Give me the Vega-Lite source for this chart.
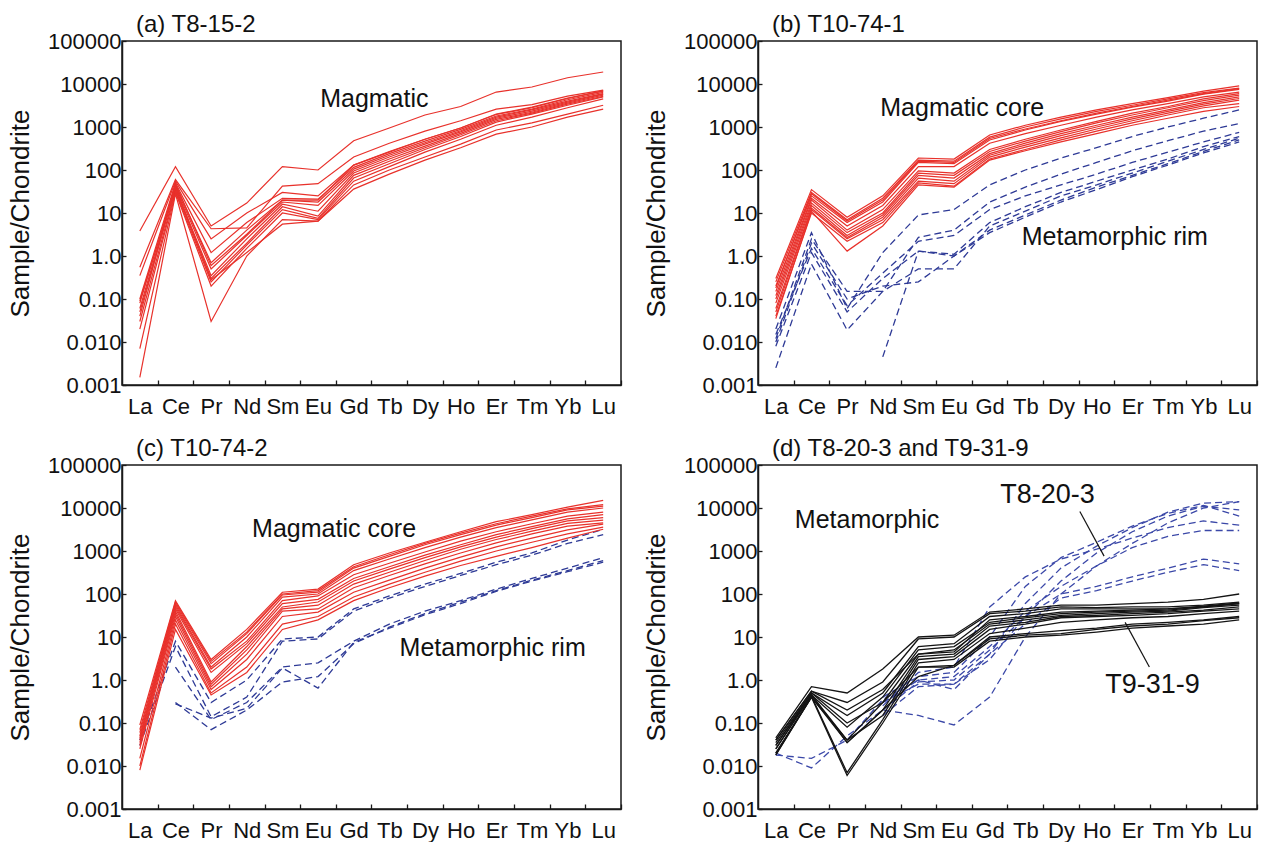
{
  "$schema": "https://vega.github.io/schema/vega-lite/v6.json",
  "padding": {"left": 6, "top": 12, "right": 0, "bottom": 0},
  "background": "white",
  "config": {
    "font": "Liberation Sans",
    "view": {"stroke": "#1a1a1a", "strokeWidth": 1.5},
    "axis": {"grid": false, "domainColor": "#1a1a1a", "domainWidth": 1.5, "tickColor": "#1a1a1a", "tickWidth": 1.3, "labelColor": "#111111", "labelFontSize": 22, "labelFont": "Liberation Sans", "titleFont": "Liberation Sans", "titleFontSize": 26, "titleFontWeight": "normal", "titleColor": "#111111"},
    "title": {"fontSize": 24, "fontWeight": "normal", "font": "Liberation Sans", "color": "#111111", "anchor": "start", "frame": "group", "offset": -7, "baseline": "alphabetic", "dx": 14},
    "text": {"font": "Liberation Sans", "color": "#111111", "align": "center", "baseline": "middle"}
  },
  "datasets": {
    "ree": [
      {"e": "La", "k": 0}, {"e": "Ce", "k": 1}, {"e": "Pr", "k": 2}, {"e": "Nd", "k": 3}, {"e": "Sm", "k": 4}, {"e": "Eu", "k": 5}, {"e": "Gd", "k": 6},
      {"e": "Tb", "k": 7}, {"e": "Dy", "k": 8}, {"e": "Ho", "k": 9}, {"e": "Er", "k": 10}, {"e": "Tm", "k": 11}, {"e": "Yb", "k": 12}, {"e": "Lu", "k": 13}
    ],
    "series": [
      {"s": "a1", "p": "a", "g": "mag"}, {"s": "a2", "p": "a", "g": "mag"}, {"s": "a3", "p": "a", "g": "mag"}, {"s": "a4", "p": "a", "g": "mag"}, {"s": "a5", "p": "a", "g": "mag"},
      {"s": "a6", "p": "a", "g": "mag"}, {"s": "a7", "p": "a", "g": "mag"}, {"s": "a8", "p": "a", "g": "mag"}, {"s": "a9", "p": "a", "g": "mag"}, {"s": "a10", "p": "a", "g": "mag"},
      {"s": "a11", "p": "a", "g": "mag"}, {"s": "a12", "p": "a", "g": "mag"}, {"s": "a13", "p": "a", "g": "mag"},
      {"s": "b1", "p": "b", "g": "mag"}, {"s": "b2", "p": "b", "g": "mag"}, {"s": "b3", "p": "b", "g": "mag"}, {"s": "b4", "p": "b", "g": "mag"}, {"s": "b5", "p": "b", "g": "mag"},
      {"s": "b6", "p": "b", "g": "mag"}, {"s": "b7", "p": "b", "g": "mag"}, {"s": "b8", "p": "b", "g": "mag"}, {"s": "b9", "p": "b", "g": "mag"}, {"s": "b10", "p": "b", "g": "mag"},
      {"s": "b11", "p": "b", "g": "mag"}, {"s": "b12", "p": "b", "g": "mag"},
      {"s": "bm1", "p": "b", "g": "met"}, {"s": "bm2", "p": "b", "g": "met"}, {"s": "bm3", "p": "b", "g": "met"}, {"s": "bm4", "p": "b", "g": "met"}, {"s": "bm5", "p": "b", "g": "met"},
      {"s": "bm6", "p": "b", "g": "met"}, {"s": "bm7", "p": "b", "g": "met"},
      {"s": "c1", "p": "c", "g": "mag"}, {"s": "c2", "p": "c", "g": "mag"}, {"s": "c3", "p": "c", "g": "mag"}, {"s": "c4", "p": "c", "g": "mag"}, {"s": "c5", "p": "c", "g": "mag"},
      {"s": "c6", "p": "c", "g": "mag"}, {"s": "c7", "p": "c", "g": "mag"}, {"s": "c8", "p": "c", "g": "mag"}, {"s": "c9", "p": "c", "g": "mag"}, {"s": "c10", "p": "c", "g": "mag"},
      {"s": "c11", "p": "c", "g": "mag"}, {"s": "c12", "p": "c", "g": "mag"},
      {"s": "cm1", "p": "c", "g": "met"}, {"s": "cm2", "p": "c", "g": "met"}, {"s": "cm3", "p": "c", "g": "met"}, {"s": "cm4", "p": "c", "g": "met"}, {"s": "cm5", "p": "c", "g": "met"},
      {"s": "d1", "p": "d", "g": "blk"}, {"s": "d2", "p": "d", "g": "blk"}, {"s": "d3", "p": "d", "g": "blk"}, {"s": "d4", "p": "d", "g": "blk"}, {"s": "d5", "p": "d", "g": "blk"},
      {"s": "d6", "p": "d", "g": "blk"}, {"s": "d7", "p": "d", "g": "blk"}, {"s": "d8", "p": "d", "g": "blk"}, {"s": "d9", "p": "d", "g": "blk"}, {"s": "d10", "p": "d", "g": "blk"},
      {"s": "d11", "p": "d", "g": "blk"}, {"s": "d12", "p": "d", "g": "blk"},
      {"s": "dm1", "p": "d", "g": "met"}, {"s": "dm2", "p": "d", "g": "met"}, {"s": "dm3", "p": "d", "g": "met"}, {"s": "dm4", "p": "d", "g": "met"}, {"s": "dm5", "p": "d", "g": "met"},
      {"s": "dm6", "p": "d", "g": "met"}, {"s": "dm7", "p": "d", "g": "met"}, {"s": "dm8", "p": "d", "g": "met"}
    ],
    "notes": [
      {"p": "a", "kind": "group", "t": "Magmatic", "k": 6.58, "v": 4470},
      {"p": "b", "kind": "group", "t": "Magmatic core", "k": 5.23, "v": 2750},
      {"p": "b", "kind": "group", "t": "Metamorphic rim", "k": 9.51, "v": 2.75},
      {"p": "c", "kind": "group", "t": "Magmatic core", "k": 5.45, "v": 3240},
      {"p": "c", "kind": "group", "t": "Metamorphic rim", "k": 9.9, "v": 5.5},
      {"p": "d", "kind": "group", "t": "Metamorphic", "k": 2.56, "v": 5370},
      {"p": "d", "kind": "sample", "t": "T8-20-3", "k": 7.62, "v": 20400},
      {"p": "d", "kind": "sample", "t": "T9-31-9", "k": 10.57, "v": 0.76}
    ],
    "leaders": [
      {"p": "d", "t": "T8-20-3", "k": 8.53, "v": 8300, "k2": 9.21, "v2": 760},
      {"p": "d", "t": "T9-31-9", "k": 9.8, "v": 21.9, "k2": 10.48, "v2": 2.0}
    ],
    "pts": [
      {"s":"a1","e":"La","v":3.8},{"s":"a1","e":"Ce","v":120},{"s":"a1","e":"Pr","v":5},{"s":"a1","e":"Nd","v":17},{"s":"a1","e":"Sm","v":120},{"s":"a1","e":"Eu","v":100},{"s":"a1","e":"Gd","v":480},{"s":"a1","e":"Tb","v":950},{"s":"a1","e":"Dy","v":1900},{"s":"a1","e":"Ho","v":3000},{"s":"a1","e":"Er","v":6500},{"s":"a1","e":"Tm","v":8500},{"s":"a1","e":"Yb","v":14000},{"s":"a1","e":"Lu","v":19000},
      {"s":"a2","e":"La","v":0.55},{"s":"a2","e":"Ce","v":60},{"s":"a2","e":"Pr","v":4.3},{"s":"a2","e":"Nd","v":4.5},{"s":"a2","e":"Sm","v":42},{"s":"a2","e":"Eu","v":48},{"s":"a2","e":"Gd","v":200},{"s":"a2","e":"Tb","v":420},{"s":"a2","e":"Dy","v":800},{"s":"a2","e":"Ho","v":1400},{"s":"a2","e":"Er","v":2600},{"s":"a2","e":"Tm","v":3300},{"s":"a2","e":"Yb","v":5200},{"s":"a2","e":"Lu","v":7200},
      {"s":"a3","e":"La","v":0.35},{"s":"a3","e":"Ce","v":55},{"s":"a3","e":"Pr","v":2.5},{"s":"a3","e":"Nd","v":10},{"s":"a3","e":"Sm","v":30},{"s":"a3","e":"Eu","v":25},{"s":"a3","e":"Gd","v":130},{"s":"a3","e":"Tb","v":270},{"s":"a3","e":"Dy","v":520},{"s":"a3","e":"Ho","v":950},{"s":"a3","e":"Er","v":1950},{"s":"a3","e":"Tm","v":2800},{"s":"a3","e":"Yb","v":4600},{"s":"a3","e":"Lu","v":6800},
      {"s":"a4","e":"La","v":0.1},{"s":"a4","e":"Ce","v":50},{"s":"a4","e":"Pr","v":1.2},{"s":"a4","e":"Nd","v":6},{"s":"a4","e":"Sm","v":22},{"s":"a4","e":"Eu","v":21},{"s":"a4","e":"Gd","v":115},{"s":"a4","e":"Tb","v":240},{"s":"a4","e":"Dy","v":470},{"s":"a4","e":"Ho","v":880},{"s":"a4","e":"Er","v":1800},{"s":"a4","e":"Tm","v":2600},{"s":"a4","e":"Yb","v":4300},{"s":"a4","e":"Lu","v":6400},
      {"s":"a5","e":"La","v":0.08},{"s":"a5","e":"Ce","v":45},{"s":"a5","e":"Pr","v":0.7},{"s":"a5","e":"Nd","v":4},{"s":"a5","e":"Sm","v":20},{"s":"a5","e":"Eu","v":18},{"s":"a5","e":"Gd","v":105},{"s":"a5","e":"Tb","v":220},{"s":"a5","e":"Dy","v":430},{"s":"a5","e":"Ho","v":820},{"s":"a5","e":"Er","v":1700},{"s":"a5","e":"Tm","v":2500},{"s":"a5","e":"Yb","v":4000},{"s":"a5","e":"Lu","v":6000},
      {"s":"a6","e":"La","v":0.06},{"s":"a6","e":"Ce","v":42},{"s":"a6","e":"Pr","v":0.5},{"s":"a6","e":"Nd","v":3},{"s":"a6","e":"Sm","v":18},{"s":"a6","e":"Eu","v":15},{"s":"a6","e":"Gd","v":95},{"s":"a6","e":"Tb","v":200},{"s":"a6","e":"Dy","v":400},{"s":"a6","e":"Ho","v":770},{"s":"a6","e":"Er","v":1600},{"s":"a6","e":"Tm","v":2350},{"s":"a6","e":"Yb","v":3800},{"s":"a6","e":"Lu","v":5800},
      {"s":"a7","e":"La","v":0.05},{"s":"a7","e":"Ce","v":38},{"s":"a7","e":"Pr","v":0.35},{"s":"a7","e":"Nd","v":2.5},{"s":"a7","e":"Sm","v":16},{"s":"a7","e":"Eu","v":11},{"s":"a7","e":"Gd","v":85},{"s":"a7","e":"Tb","v":180},{"s":"a7","e":"Dy","v":360},{"s":"a7","e":"Ho","v":710},{"s":"a7","e":"Er","v":1500},{"s":"a7","e":"Tm","v":2200},{"s":"a7","e":"Yb","v":3600},{"s":"a7","e":"Lu","v":5500},
      {"s":"a8","e":"La","v":0.03},{"s":"a8","e":"Ce","v":35},{"s":"a8","e":"Pr","v":0.3},{"s":"a8","e":"Nd","v":2.0},{"s":"a8","e":"Sm","v":14},{"s":"a8","e":"Eu","v":8.5},{"s":"a8","e":"Gd","v":75},{"s":"a8","e":"Tb","v":160},{"s":"a8","e":"Dy","v":330},{"s":"a8","e":"Ho","v":660},{"s":"a8","e":"Er","v":1400},{"s":"a8","e":"Tm","v":2100},{"s":"a8","e":"Yb","v":3400},{"s":"a8","e":"Lu","v":5200},
      {"s":"a9","e":"La","v":0.02},{"s":"a9","e":"Ce","v":32},{"s":"a9","e":"Pr","v":0.25},{"s":"a9","e":"Nd","v":1.8},{"s":"a9","e":"Sm","v":12},{"s":"a9","e":"Eu","v":7.5},{"s":"a9","e":"Gd","v":65},{"s":"a9","e":"Tb","v":140},{"s":"a9","e":"Dy","v":300},{"s":"a9","e":"Ho","v":600},{"s":"a9","e":"Er","v":1300},{"s":"a9","e":"Tm","v":2000},{"s":"a9","e":"Yb","v":3200},{"s":"a9","e":"Lu","v":5000},
      {"s":"a10","e":"La","v":0.007},{"s":"a10","e":"Ce","v":30},{"s":"a10","e":"Pr","v":0.2},{"s":"a10","e":"Nd","v":1.5},{"s":"a10","e":"Sm","v":10},{"s":"a10","e":"Eu","v":7},{"s":"a10","e":"Gd","v":55},{"s":"a10","e":"Tb","v":120},{"s":"a10","e":"Dy","v":260},{"s":"a10","e":"Ho","v":520},{"s":"a10","e":"Er","v":1100},{"s":"a10","e":"Tm","v":1700},{"s":"a10","e":"Yb","v":2800},{"s":"a10","e":"Lu","v":4500},
      {"s":"a11","e":"La","v":0.0015},{"s":"a11","e":"Ce","v":28},{"s":"a11","e":"Pr","v":0.03},{"s":"a11","e":"Nd","v":1.0},{"s":"a11","e":"Sm","v":7},{"s":"a11","e":"Eu","v":6.5},{"s":"a11","e":"Gd","v":45},{"s":"a11","e":"Tb","v":100},{"s":"a11","e":"Dy","v":200},{"s":"a11","e":"Ho","v":400},{"s":"a11","e":"Er","v":850},{"s":"a11","e":"Tm","v":1250},{"s":"a11","e":"Yb","v":2000},{"s":"a11","e":"Lu","v":3200},
      {"s":"a12","e":"La","v":0.09},{"s":"a12","e":"Ce","v":40},{"s":"a12","e":"Pr","v":0.28},{"s":"a12","e":"Nd","v":1.2},{"s":"a12","e":"Sm","v":5.5},{"s":"a12","e":"Eu","v":6.5},{"s":"a12","e":"Gd","v":36},{"s":"a12","e":"Tb","v":80},{"s":"a12","e":"Dy","v":170},{"s":"a12","e":"Ho","v":330},{"s":"a12","e":"Er","v":680},{"s":"a12","e":"Tm","v":1000},{"s":"a12","e":"Yb","v":1700},{"s":"a12","e":"Lu","v":2600},
      {"s":"a13","e":"La","v":0.04},{"s":"a13","e":"Ce","v":48},{"s":"a13","e":"Pr","v":0.6},{"s":"a13","e":"Nd","v":3.2},{"s":"a13","e":"Sm","v":20},{"s":"a13","e":"Eu","v":20},{"s":"a13","e":"Gd","v":130},{"s":"a13","e":"Tb","v":260},{"s":"a13","e":"Dy","v":520},{"s":"a13","e":"Ho","v":950},{"s":"a13","e":"Er","v":2000},{"s":"a13","e":"Tm","v":2900},{"s":"a13","e":"Yb","v":4700},{"s":"a13","e":"Lu","v":6900},

      {"s":"b1","e":"La","v":0.3},{"s":"b1","e":"Ce","v":35},{"s":"b1","e":"Pr","v":8},{"s":"b1","e":"Nd","v":25},{"s":"b1","e":"Sm","v":190},{"s":"b1","e":"Eu","v":180},{"s":"b1","e":"Gd","v":650},{"s":"b1","e":"Tb","v":1100},{"s":"b1","e":"Dy","v":1700},{"s":"b1","e":"Ho","v":2500},{"s":"b1","e":"Er","v":3500},{"s":"b1","e":"Tm","v":4800},{"s":"b1","e":"Yb","v":6800},{"s":"b1","e":"Lu","v":9000},
      {"s":"b2","e":"La","v":0.25},{"s":"b2","e":"Ce","v":30},{"s":"b2","e":"Pr","v":7},{"s":"b2","e":"Nd","v":22},{"s":"b2","e":"Sm","v":170},{"s":"b2","e":"Eu","v":160},{"s":"b2","e":"Gd","v":580},{"s":"b2","e":"Tb","v":1000},{"s":"b2","e":"Dy","v":1550},{"s":"b2","e":"Ho","v":2300},{"s":"b2","e":"Er","v":3200},{"s":"b2","e":"Tm","v":4500},{"s":"b2","e":"Yb","v":6300},{"s":"b2","e":"Lu","v":8000},
      {"s":"b3","e":"La","v":0.2},{"s":"b3","e":"Ce","v":25},{"s":"b3","e":"Pr","v":6},{"s":"b3","e":"Nd","v":18},{"s":"b3","e":"Sm","v":150},{"s":"b3","e":"Eu","v":140},{"s":"b3","e":"Gd","v":500},{"s":"b3","e":"Tb","v":850},{"s":"b3","e":"Dy","v":1350},{"s":"b3","e":"Ho","v":2000},{"s":"b3","e":"Er","v":2900},{"s":"b3","e":"Tm","v":4000},{"s":"b3","e":"Yb","v":5800},{"s":"b3","e":"Lu","v":7500},
      {"s":"b4","e":"La","v":0.15},{"s":"b4","e":"Ce","v":22},{"s":"b4","e":"Pr","v":5},{"s":"b4","e":"Nd","v":15},{"s":"b4","e":"Sm","v":120},{"s":"b4","e":"Eu","v":120},{"s":"b4","e":"Gd","v":420},{"s":"b4","e":"Tb","v":700},{"s":"b4","e":"Dy","v":1100},{"s":"b4","e":"Ho","v":1700},{"s":"b4","e":"Er","v":2500},{"s":"b4","e":"Tm","v":3500},{"s":"b4","e":"Yb","v":5000},{"s":"b4","e":"Lu","v":6500},
      {"s":"b5","e":"La","v":0.12},{"s":"b5","e":"Ce","v":20},{"s":"b5","e":"Pr","v":4},{"s":"b5","e":"Nd","v":12},{"s":"b5","e":"Sm","v":95},{"s":"b5","e":"Eu","v":85},{"s":"b5","e":"Gd","v":300},{"s":"b5","e":"Tb","v":520},{"s":"b5","e":"Dy","v":850},{"s":"b5","e":"Ho","v":1350},{"s":"b5","e":"Er","v":2100},{"s":"b5","e":"Tm","v":3000},{"s":"b5","e":"Yb","v":4500},{"s":"b5","e":"Lu","v":6000},
      {"s":"b6","e":"La","v":0.1},{"s":"b6","e":"Ce","v":17},{"s":"b6","e":"Pr","v":3.5},{"s":"b6","e":"Nd","v":10},{"s":"b6","e":"Sm","v":85},{"s":"b6","e":"Eu","v":75},{"s":"b6","e":"Gd","v":270},{"s":"b6","e":"Tb","v":470},{"s":"b6","e":"Dy","v":780},{"s":"b6","e":"Ho","v":1250},{"s":"b6","e":"Er","v":1900},{"s":"b6","e":"Tm","v":2800},{"s":"b6","e":"Yb","v":4100},{"s":"b6","e":"Lu","v":5500},
      {"s":"b7","e":"La","v":0.08},{"s":"b7","e":"Ce","v":15},{"s":"b7","e":"Pr","v":3},{"s":"b7","e":"Nd","v":9},{"s":"b7","e":"Sm","v":75},{"s":"b7","e":"Eu","v":65},{"s":"b7","e":"Gd","v":240},{"s":"b7","e":"Tb","v":420},{"s":"b7","e":"Dy","v":700},{"s":"b7","e":"Ho","v":1100},{"s":"b7","e":"Er","v":1700},{"s":"b7","e":"Tm","v":2500},{"s":"b7","e":"Yb","v":3700},{"s":"b7","e":"Lu","v":5000},
      {"s":"b8","e":"La","v":0.06},{"s":"b8","e":"Ce","v":13},{"s":"b8","e":"Pr","v":2.7},{"s":"b8","e":"Nd","v":8},{"s":"b8","e":"Sm","v":65},{"s":"b8","e":"Eu","v":55},{"s":"b8","e":"Gd","v":220},{"s":"b8","e":"Tb","v":380},{"s":"b8","e":"Dy","v":630},{"s":"b8","e":"Ho","v":1000},{"s":"b8","e":"Er","v":1550},{"s":"b8","e":"Tm","v":2300},{"s":"b8","e":"Yb","v":3400},{"s":"b8","e":"Lu","v":4600},
      {"s":"b9","e":"La","v":0.05},{"s":"b9","e":"Ce","v":12},{"s":"b9","e":"Pr","v":2.5},{"s":"b9","e":"Nd","v":7},{"s":"b9","e":"Sm","v":55},{"s":"b9","e":"Eu","v":48},{"s":"b9","e":"Gd","v":200},{"s":"b9","e":"Tb","v":340},{"s":"b9","e":"Dy","v":560},{"s":"b9","e":"Ho","v":900},{"s":"b9","e":"Er","v":1400},{"s":"b9","e":"Tm","v":2100},{"s":"b9","e":"Yb","v":3100},{"s":"b9","e":"Lu","v":4200},
      {"s":"b10","e":"La","v":0.04},{"s":"b10","e":"Ce","v":10},{"s":"b10","e":"Pr","v":2.2},{"s":"b10","e":"Nd","v":6},{"s":"b10","e":"Sm","v":50},{"s":"b10","e":"Eu","v":42},{"s":"b10","e":"Gd","v":180},{"s":"b10","e":"Tb","v":300},{"s":"b10","e":"Dy","v":500},{"s":"b10","e":"Ho","v":800},{"s":"b10","e":"Er","v":1250},{"s":"b10","e":"Tm","v":1900},{"s":"b10","e":"Yb","v":2800},{"s":"b10","e":"Lu","v":3500},
      {"s":"b11","e":"La","v":0.035},{"s":"b11","e":"Ce","v":11},{"s":"b11","e":"Pr","v":1.3},{"s":"b11","e":"Nd","v":5},{"s":"b11","e":"Sm","v":45},{"s":"b11","e":"Eu","v":40},{"s":"b11","e":"Gd","v":170},{"s":"b11","e":"Tb","v":280},{"s":"b11","e":"Dy","v":450},{"s":"b11","e":"Ho","v":700},{"s":"b11","e":"Er","v":1100},{"s":"b11","e":"Tm","v":1600},{"s":"b11","e":"Yb","v":2300},{"s":"b11","e":"Lu","v":3000},
      {"s":"b12","e":"La","v":0.18},{"s":"b12","e":"Ce","v":28},{"s":"b12","e":"Pr","v":6.5},{"s":"b12","e":"Nd","v":20},{"s":"b12","e":"Sm","v":160},{"s":"b12","e":"Eu","v":150},{"s":"b12","e":"Gd","v":540},{"s":"b12","e":"Tb","v":900},{"s":"b12","e":"Dy","v":1400},{"s":"b12","e":"Ho","v":2100},{"s":"b12","e":"Er","v":3000},{"s":"b12","e":"Tm","v":4200},{"s":"b12","e":"Yb","v":6000},{"s":"b12","e":"Lu","v":7800},
      {"s":"bm1","e":"La","v":0.02},{"s":"bm1","e":"Ce","v":3.5},{"s":"bm1","e":"Pr","v":0.06},{"s":"bm1","e":"Nd","v":1.2},{"s":"bm1","e":"Sm","v":9},{"s":"bm1","e":"Eu","v":12},{"s":"bm1","e":"Gd","v":45},{"s":"bm1","e":"Tb","v":100},{"s":"bm1","e":"Dy","v":190},{"s":"bm1","e":"Ho","v":330},{"s":"bm1","e":"Er","v":600},{"s":"bm1","e":"Tm","v":1000},{"s":"bm1","e":"Yb","v":1600},{"s":"bm1","e":"Lu","v":2500},
      {"s":"bm2","e":"La","v":0.012},{"s":"bm2","e":"Ce","v":2.5},{"s":"bm2","e":"Pr","v":0.15},{"s":"bm2","e":"Nd","v":0.15},{"s":"bm2","e":"Sm","v":2.7},{"s":"bm2","e":"Eu","v":4},{"s":"bm2","e":"Gd","v":18},{"s":"bm2","e":"Tb","v":40},{"s":"bm2","e":"Dy","v":80},{"s":"bm2","e":"Ho","v":150},{"s":"bm2","e":"Er","v":280},{"s":"bm2","e":"Tm","v":480},{"s":"bm2","e":"Yb","v":800},{"s":"bm2","e":"Lu","v":1200},
      {"s":"bm3","e":"La","v":0.015},{"s":"bm3","e":"Ce","v":1.5},{"s":"bm3","e":"Pr","v":0.07},{"s":"bm3","e":"Nd","v":0.4},{"s":"bm3","e":"Sm","v":2.2},{"s":"bm3","e":"Eu","v":3},{"s":"bm3","e":"Gd","v":12},{"s":"bm3","e":"Tb","v":25},{"s":"bm3","e":"Dy","v":45},{"s":"bm3","e":"Ho","v":80},{"s":"bm3","e":"Er","v":150},{"s":"bm3","e":"Tm","v":260},{"s":"bm3","e":"Yb","v":450},{"s":"bm3","e":"Lu","v":750},
      {"s":"bm4","e":"La","v":0.008},{"s":"bm4","e":"Ce","v":1.2},{"s":"bm4","e":"Pr","v":0.05},{"s":"bm4","e":"Nd","v":0.3},{"s":"bm4","e":"Sm","v":1.3},{"s":"bm4","e":"Eu","v":1.1},{"s":"bm4","e":"Gd","v":6},{"s":"bm4","e":"Tb","v":14},{"s":"bm4","e":"Dy","v":30},{"s":"bm4","e":"Ho","v":55},{"s":"bm4","e":"Er","v":100},{"s":"bm4","e":"Tm","v":180},{"s":"bm4","e":"Yb","v":350},{"s":"bm4","e":"Lu","v":600},
      {"s":"bm5","e":"La","v":0.0025},{"s":"bm5","e":"Ce","v":0.65},{"s":"bm5","e":"Pr","v":0.019},{"s":"bm5","e":"Nd","v":0.15},{"s":"bm5","e":"Sm","v":0.5},{"s":"bm5","e":"Eu","v":0.5},{"s":"bm5","e":"Gd","v":5},{"s":"bm5","e":"Tb","v":11},{"s":"bm5","e":"Dy","v":25},{"s":"bm5","e":"Ho","v":45},{"s":"bm5","e":"Er","v":85},{"s":"bm5","e":"Tm","v":160},{"s":"bm5","e":"Yb","v":300},{"s":"bm5","e":"Lu","v":550},
      {"s":"bm6","e":"Nd","v":0.0045},{"s":"bm6","e":"Sm","v":1.3},{"s":"bm6","e":"Eu","v":1.0},{"s":"bm6","e":"Gd","v":3.5},{"s":"bm6","e":"Tb","v":8},{"s":"bm6","e":"Dy","v":18},{"s":"bm6","e":"Ho","v":35},{"s":"bm6","e":"Er","v":70},{"s":"bm6","e":"Tm","v":130},{"s":"bm6","e":"Yb","v":250},{"s":"bm6","e":"Lu","v":450},
      {"s":"bm7","e":"La","v":0.01},{"s":"bm7","e":"Ce","v":2},{"s":"bm7","e":"Pr","v":0.1},{"s":"bm7","e":"Nd","v":0.2},{"s":"bm7","e":"Sm","v":0.25},{"s":"bm7","e":"Eu","v":1.0},{"s":"bm7","e":"Gd","v":4},{"s":"bm7","e":"Tb","v":9},{"s":"bm7","e":"Dy","v":20},{"s":"bm7","e":"Ho","v":40},{"s":"bm7","e":"Er","v":75},{"s":"bm7","e":"Tm","v":140},{"s":"bm7","e":"Yb","v":270},{"s":"bm7","e":"Lu","v":500},

      {"s":"c1","e":"La","v":0.09},{"s":"c1","e":"Ce","v":70},{"s":"c1","e":"Pr","v":3},{"s":"c1","e":"Nd","v":15},{"s":"c1","e":"Sm","v":110},{"s":"c1","e":"Eu","v":130},{"s":"c1","e":"Gd","v":480},{"s":"c1","e":"Tb","v":900},{"s":"c1","e":"Dy","v":1600},{"s":"c1","e":"Ho","v":2800},{"s":"c1","e":"Er","v":4800},{"s":"c1","e":"Tm","v":7000},{"s":"c1","e":"Yb","v":10500},{"s":"c1","e":"Lu","v":15000},
      {"s":"c2","e":"La","v":0.07},{"s":"c2","e":"Ce","v":65},{"s":"c2","e":"Pr","v":2.7},{"s":"c2","e":"Nd","v":13},{"s":"c2","e":"Sm","v":100},{"s":"c2","e":"Eu","v":120},{"s":"c2","e":"Gd","v":430},{"s":"c2","e":"Tb","v":820},{"s":"c2","e":"Dy","v":1500},{"s":"c2","e":"Ho","v":2600},{"s":"c2","e":"Er","v":4300},{"s":"c2","e":"Tm","v":6500},{"s":"c2","e":"Yb","v":9500},{"s":"c2","e":"Lu","v":12000},
      {"s":"c3","e":"La","v":0.06},{"s":"c3","e":"Ce","v":60},{"s":"c3","e":"Pr","v":2.4},{"s":"c3","e":"Nd","v":12},{"s":"c3","e":"Sm","v":95},{"s":"c3","e":"Eu","v":110},{"s":"c3","e":"Gd","v":400},{"s":"c3","e":"Tb","v":750},{"s":"c3","e":"Dy","v":1400},{"s":"c3","e":"Ho","v":2400},{"s":"c3","e":"Er","v":4000},{"s":"c3","e":"Tm","v":6000},{"s":"c3","e":"Yb","v":9000},{"s":"c3","e":"Lu","v":11000},
      {"s":"c4","e":"La","v":0.05},{"s":"c4","e":"Ce","v":55},{"s":"c4","e":"Pr","v":2.0},{"s":"c4","e":"Nd","v":10},{"s":"c4","e":"Sm","v":85},{"s":"c4","e":"Eu","v":100},{"s":"c4","e":"Gd","v":350},{"s":"c4","e":"Tb","v":650},{"s":"c4","e":"Dy","v":1200},{"s":"c4","e":"Ho","v":2100},{"s":"c4","e":"Er","v":3500},{"s":"c4","e":"Tm","v":5300},{"s":"c4","e":"Yb","v":8000},{"s":"c4","e":"Lu","v":10000},
      {"s":"c5","e":"La","v":0.045},{"s":"c5","e":"Ce","v":50},{"s":"c5","e":"Pr","v":1.8},{"s":"c5","e":"Nd","v":8},{"s":"c5","e":"Sm","v":70},{"s":"c5","e":"Eu","v":90},{"s":"c5","e":"Gd","v":280},{"s":"c5","e":"Tb","v":520},{"s":"c5","e":"Dy","v":950},{"s":"c5","e":"Ho","v":1700},{"s":"c5","e":"Er","v":2800},{"s":"c5","e":"Tm","v":4300},{"s":"c5","e":"Yb","v":6500},{"s":"c5","e":"Lu","v":8000},
      {"s":"c6","e":"La","v":0.04},{"s":"c6","e":"Ce","v":45},{"s":"c6","e":"Pr","v":1.5},{"s":"c6","e":"Nd","v":7},{"s":"c6","e":"Sm","v":60},{"s":"c6","e":"Eu","v":75},{"s":"c6","e":"Gd","v":230},{"s":"c6","e":"Tb","v":430},{"s":"c6","e":"Dy","v":800},{"s":"c6","e":"Ho","v":1400},{"s":"c6","e":"Er","v":2400},{"s":"c6","e":"Tm","v":3700},{"s":"c6","e":"Yb","v":5600},{"s":"c6","e":"Lu","v":7000},
      {"s":"c7","e":"La","v":0.035},{"s":"c7","e":"Ce","v":40},{"s":"c7","e":"Pr","v":0.9},{"s":"c7","e":"Nd","v":6},{"s":"c7","e":"Sm","v":50},{"s":"c7","e":"Eu","v":65},{"s":"c7","e":"Gd","v":200},{"s":"c7","e":"Tb","v":380},{"s":"c7","e":"Dy","v":700},{"s":"c7","e":"Ho","v":1250},{"s":"c7","e":"Er","v":2100},{"s":"c7","e":"Tm","v":3300},{"s":"c7","e":"Yb","v":5000},{"s":"c7","e":"Lu","v":6000},
      {"s":"c8","e":"La","v":0.03},{"s":"c8","e":"Ce","v":35},{"s":"c8","e":"Pr","v":0.8},{"s":"c8","e":"Nd","v":5},{"s":"c8","e":"Sm","v":45},{"s":"c8","e":"Eu","v":55},{"s":"c8","e":"Gd","v":170},{"s":"c8","e":"Tb","v":320},{"s":"c8","e":"Dy","v":600},{"s":"c8","e":"Ho","v":1100},{"s":"c8","e":"Er","v":1850},{"s":"c8","e":"Tm","v":2900},{"s":"c8","e":"Yb","v":4400},{"s":"c8","e":"Lu","v":5200},
      {"s":"c9","e":"La","v":0.025},{"s":"c9","e":"Ce","v":30},{"s":"c9","e":"Pr","v":0.7},{"s":"c9","e":"Nd","v":4},{"s":"c9","e":"Sm","v":40},{"s":"c9","e":"Eu","v":45},{"s":"c9","e":"Gd","v":140},{"s":"c9","e":"Tb","v":270},{"s":"c9","e":"Dy","v":500},{"s":"c9","e":"Ho","v":900},{"s":"c9","e":"Er","v":1550},{"s":"c9","e":"Tm","v":2500},{"s":"c9","e":"Yb","v":3800},{"s":"c9","e":"Lu","v":4500},
      {"s":"c10","e":"La","v":0.015},{"s":"c10","e":"Ce","v":25},{"s":"c10","e":"Pr","v":0.6},{"s":"c10","e":"Nd","v":3},{"s":"c10","e":"Sm","v":30},{"s":"c10","e":"Eu","v":38},{"s":"c10","e":"Gd","v":110},{"s":"c10","e":"Tb","v":210},{"s":"c10","e":"Dy","v":400},{"s":"c10","e":"Ho","v":720},{"s":"c10","e":"Er","v":1250},{"s":"c10","e":"Tm","v":2000},{"s":"c10","e":"Yb","v":3100},{"s":"c10","e":"Lu","v":4200},
      {"s":"c11","e":"La","v":0.01},{"s":"c11","e":"Ce","v":20},{"s":"c11","e":"Pr","v":0.5},{"s":"c11","e":"Nd","v":2},{"s":"c11","e":"Sm","v":20},{"s":"c11","e":"Eu","v":30},{"s":"c11","e":"Gd","v":85},{"s":"c11","e":"Tb","v":170},{"s":"c11","e":"Dy","v":320},{"s":"c11","e":"Ho","v":580},{"s":"c11","e":"Er","v":1000},{"s":"c11","e":"Tm","v":1600},{"s":"c11","e":"Yb","v":2500},{"s":"c11","e":"Lu","v":3600},
      {"s":"c12","e":"La","v":0.008},{"s":"c12","e":"Ce","v":15},{"s":"c12","e":"Pr","v":0.45},{"s":"c12","e":"Nd","v":1.5},{"s":"c12","e":"Sm","v":15},{"s":"c12","e":"Eu","v":25},{"s":"c12","e":"Gd","v":70},{"s":"c12","e":"Tb","v":140},{"s":"c12","e":"Dy","v":260},{"s":"c12","e":"Ho","v":460},{"s":"c12","e":"Er","v":750},{"s":"c12","e":"Tm","v":1200},{"s":"c12","e":"Yb","v":2000},{"s":"c12","e":"Lu","v":3200},
      {"s":"cm1","e":"La","v":0.04},{"s":"cm1","e":"Ce","v":8},{"s":"cm1","e":"Pr","v":0.3},{"s":"cm1","e":"Nd","v":1.0},{"s":"cm1","e":"Sm","v":9},{"s":"cm1","e":"Eu","v":10},{"s":"cm1","e":"Gd","v":45},{"s":"cm1","e":"Tb","v":90},{"s":"cm1","e":"Dy","v":170},{"s":"cm1","e":"Ho","v":300},{"s":"cm1","e":"Er","v":550},{"s":"cm1","e":"Tm","v":900},{"s":"cm1","e":"Yb","v":1800},{"s":"cm1","e":"Lu","v":3200},
      {"s":"cm2","e":"La","v":0.03},{"s":"cm2","e":"Ce","v":6},{"s":"cm2","e":"Pr","v":0.14},{"s":"cm2","e":"Nd","v":0.4},{"s":"cm2","e":"Sm","v":8},{"s":"cm2","e":"Eu","v":9},{"s":"cm2","e":"Gd","v":40},{"s":"cm2","e":"Tb","v":80},{"s":"cm2","e":"Dy","v":150},{"s":"cm2","e":"Ho","v":270},{"s":"cm2","e":"Er","v":480},{"s":"cm2","e":"Tm","v":800},{"s":"cm2","e":"Yb","v":1500},{"s":"cm2","e":"Lu","v":2400},
      {"s":"cm3","e":"Ce","v":2},{"s":"cm3","e":"Pr","v":0.12},{"s":"cm3","e":"Nd","v":0.3},{"s":"cm3","e":"Sm","v":2},{"s":"cm3","e":"Eu","v":2.5},{"s":"cm3","e":"Gd","v":8},{"s":"cm3","e":"Tb","v":20},{"s":"cm3","e":"Dy","v":40},{"s":"cm3","e":"Ho","v":70},{"s":"cm3","e":"Er","v":130},{"s":"cm3","e":"Tm","v":230},{"s":"cm3","e":"Yb","v":400},{"s":"cm3","e":"Lu","v":700},
      {"s":"cm4","e":"Ce","v":0.3},{"s":"cm4","e":"Pr","v":0.07},{"s":"cm4","e":"Nd","v":0.2},{"s":"cm4","e":"Sm","v":0.9},{"s":"cm4","e":"Eu","v":1.2},{"s":"cm4","e":"Gd","v":7},{"s":"cm4","e":"Tb","v":17},{"s":"cm4","e":"Dy","v":35},{"s":"cm4","e":"Ho","v":65},{"s":"cm4","e":"Er","v":120},{"s":"cm4","e":"Tm","v":210},{"s":"cm4","e":"Yb","v":350},{"s":"cm4","e":"Lu","v":600},
      {"s":"cm5","e":"Ce","v":0.28},{"s":"cm5","e":"Pr","v":0.13},{"s":"cm5","e":"Nd","v":0.22},{"s":"cm5","e":"Sm","v":1.9},{"s":"cm5","e":"Eu","v":0.65},{"s":"cm5","e":"Gd","v":7.5},{"s":"cm5","e":"Tb","v":16},{"s":"cm5","e":"Dy","v":33},{"s":"cm5","e":"Ho","v":60},{"s":"cm5","e":"Er","v":115},{"s":"cm5","e":"Tm","v":200},{"s":"cm5","e":"Yb","v":330},{"s":"cm5","e":"Lu","v":550},

      {"s":"d1","e":"La","v":0.045},{"s":"d1","e":"Ce","v":0.7},{"s":"d1","e":"Pr","v":0.5},{"s":"d1","e":"Nd","v":1.8},{"s":"d1","e":"Sm","v":10},{"s":"d1","e":"Eu","v":11},{"s":"d1","e":"Gd","v":38},{"s":"d1","e":"Tb","v":45},{"s":"d1","e":"Dy","v":55},{"s":"d1","e":"Ho","v":55},{"s":"d1","e":"Er","v":60},{"s":"d1","e":"Tm","v":65},{"s":"d1","e":"Yb","v":75},{"s":"d1","e":"Lu","v":100},
      {"s":"d2","e":"La","v":0.04},{"s":"d2","e":"Ce","v":0.55},{"s":"d2","e":"Pr","v":0.3},{"s":"d2","e":"Nd","v":0.9},{"s":"d2","e":"Sm","v":9},{"s":"d2","e":"Eu","v":10},{"s":"d2","e":"Gd","v":35},{"s":"d2","e":"Tb","v":40},{"s":"d2","e":"Dy","v":50},{"s":"d2","e":"Ho","v":48},{"s":"d2","e":"Er","v":50},{"s":"d2","e":"Tm","v":50},{"s":"d2","e":"Yb","v":55},{"s":"d2","e":"Lu","v":65},
      {"s":"d3","e":"La","v":0.035},{"s":"d3","e":"Ce","v":0.5},{"s":"d3","e":"Pr","v":0.15},{"s":"d3","e":"Nd","v":0.5},{"s":"d3","e":"Sm","v":6},{"s":"d3","e":"Eu","v":7},{"s":"d3","e":"Gd","v":30},{"s":"d3","e":"Tb","v":35},{"s":"d3","e":"Dy","v":45},{"s":"d3","e":"Ho","v":45},{"s":"d3","e":"Er","v":45},{"s":"d3","e":"Tm","v":45},{"s":"d3","e":"Yb","v":50},{"s":"d3","e":"Lu","v":60},
      {"s":"d4","e":"La","v":0.03},{"s":"d4","e":"Ce","v":0.45},{"s":"d4","e":"Pr","v":0.08},{"s":"d4","e":"Nd","v":0.4},{"s":"d4","e":"Sm","v":5},{"s":"d4","e":"Eu","v":6},{"s":"d4","e":"Gd","v":22},{"s":"d4","e":"Tb","v":28},{"s":"d4","e":"Dy","v":35},{"s":"d4","e":"Ho","v":38},{"s":"d4","e":"Er","v":40},{"s":"d4","e":"Tm","v":42},{"s":"d4","e":"Yb","v":50},{"s":"d4","e":"Lu","v":60},
      {"s":"d5","e":"La","v":0.025},{"s":"d5","e":"Ce","v":0.45},{"s":"d5","e":"Pr","v":0.04},{"s":"d5","e":"Nd","v":0.3},{"s":"d5","e":"Sm","v":4},{"s":"d5","e":"Eu","v":5},{"s":"d5","e":"Gd","v":20},{"s":"d5","e":"Tb","v":25},{"s":"d5","e":"Dy","v":32},{"s":"d5","e":"Ho","v":35},{"s":"d5","e":"Er","v":38},{"s":"d5","e":"Tm","v":40},{"s":"d5","e":"Yb","v":48},{"s":"d5","e":"Lu","v":55},
      {"s":"d6","e":"La","v":0.02},{"s":"d6","e":"Ce","v":0.4},{"s":"d6","e":"Pr","v":0.035},{"s":"d6","e":"Nd","v":0.2},{"s":"d6","e":"Sm","v":3.5},{"s":"d6","e":"Eu","v":4},{"s":"d6","e":"Gd","v":18},{"s":"d6","e":"Tb","v":22},{"s":"d6","e":"Dy","v":30},{"s":"d6","e":"Ho","v":32},{"s":"d6","e":"Er","v":35},{"s":"d6","e":"Tm","v":38},{"s":"d6","e":"Yb","v":42},{"s":"d6","e":"Lu","v":50},
      {"s":"d7","e":"La","v":0.02},{"s":"d7","e":"Ce","v":0.4},{"s":"d7","e":"Pr","v":0.04},{"s":"d7","e":"Nd","v":0.15},{"s":"d7","e":"Sm","v":3},{"s":"d7","e":"Eu","v":3.5},{"s":"d7","e":"Gd","v":15},{"s":"d7","e":"Tb","v":20},{"s":"d7","e":"Dy","v":28},{"s":"d7","e":"Ho","v":30},{"s":"d7","e":"Er","v":32},{"s":"d7","e":"Tm","v":35},{"s":"d7","e":"Yb","v":40},{"s":"d7","e":"Lu","v":45},
      {"s":"d8","e":"La","v":0.018},{"s":"d8","e":"Ce","v":0.42},{"s":"d8","e":"Pr","v":0.007},{"s":"d8","e":"Nd","v":0.12},{"s":"d8","e":"Sm","v":2.5},{"s":"d8","e":"Eu","v":3},{"s":"d8","e":"Gd","v":12},{"s":"d8","e":"Tb","v":16},{"s":"d8","e":"Dy","v":22},{"s":"d8","e":"Ho","v":25},{"s":"d8","e":"Er","v":28},{"s":"d8","e":"Tm","v":30},{"s":"d8","e":"Yb","v":35},{"s":"d8","e":"Lu","v":40},
      {"s":"d9","e":"La","v":0.018},{"s":"d9","e":"Ce","v":0.4},{"s":"d9","e":"Pr","v":0.006},{"s":"d9","e":"Nd","v":0.1},{"s":"d9","e":"Sm","v":2},{"s":"d9","e":"Eu","v":2.2},{"s":"d9","e":"Gd","v":10},{"s":"d9","e":"Tb","v":12},{"s":"d9","e":"Dy","v":14},{"s":"d9","e":"Ho","v":16},{"s":"d9","e":"Er","v":20},{"s":"d9","e":"Tm","v":22},{"s":"d9","e":"Yb","v":25},{"s":"d9","e":"Lu","v":30},
      {"s":"d10","e":"La","v":0.03},{"s":"d10","e":"Ce","v":0.5},{"s":"d10","e":"Pr","v":0.1},{"s":"d10","e":"Nd","v":0.3},{"s":"d10","e":"Sm","v":2},{"s":"d10","e":"Eu","v":2},{"s":"d10","e":"Gd","v":8},{"s":"d10","e":"Tb","v":10},{"s":"d10","e":"Dy","v":11},{"s":"d10","e":"Ho","v":13},{"s":"d10","e":"Er","v":16},{"s":"d10","e":"Tm","v":18},{"s":"d10","e":"Yb","v":20},{"s":"d10","e":"Lu","v":25},
      {"s":"d11","e":"La","v":0.025},{"s":"d11","e":"Ce","v":0.45},{"s":"d11","e":"Pr","v":0.035},{"s":"d11","e":"Nd","v":0.2},{"s":"d11","e":"Sm","v":1.2},{"s":"d11","e":"Eu","v":2.2},{"s":"d11","e":"Gd","v":9},{"s":"d11","e":"Tb","v":11},{"s":"d11","e":"Dy","v":12},{"s":"d11","e":"Ho","v":15},{"s":"d11","e":"Er","v":18},{"s":"d11","e":"Tm","v":20},{"s":"d11","e":"Yb","v":24},{"s":"d11","e":"Lu","v":28},
      {"s":"d12","e":"La","v":0.04},{"s":"d12","e":"Ce","v":0.55},{"s":"d12","e":"Pr","v":0.2},{"s":"d12","e":"Nd","v":0.6},{"s":"d12","e":"Sm","v":4},{"s":"d12","e":"Eu","v":4.5},{"s":"d12","e":"Gd","v":25},{"s":"d12","e":"Tb","v":30},{"s":"d12","e":"Dy","v":38},{"s":"d12","e":"Ho","v":40},{"s":"d12","e":"Er","v":42},{"s":"d12","e":"Tm","v":45},{"s":"d12","e":"Yb","v":52},{"s":"d12","e":"Lu","v":62},
      {"s":"dm1","e":"La","v":0.02},{"s":"dm1","e":"Ce","v":0.009},{"s":"dm1","e":"Pr","v":0.05},{"s":"dm1","e":"Nd","v":0.2},{"s":"dm1","e":"Sm","v":0.15},{"s":"dm1","e":"Eu","v":0.09},{"s":"dm1","e":"Gd","v":0.4},{"s":"dm1","e":"Tb","v":10},{"s":"dm1","e":"Dy","v":100},{"s":"dm1","e":"Ho","v":450},{"s":"dm1","e":"Er","v":1500},{"s":"dm1","e":"Tm","v":4500},{"s":"dm1","e":"Yb","v":10000},{"s":"dm1","e":"Lu","v":14000},
      {"s":"dm2","e":"La","v":0.018},{"s":"dm2","e":"Ce","v":0.015},{"s":"dm2","e":"Pr","v":0.04},{"s":"dm2","e":"Nd","v":0.35},{"s":"dm2","e":"Sm","v":1.0},{"s":"dm2","e":"Eu","v":0.6},{"s":"dm2","e":"Gd","v":4},{"s":"dm2","e":"Tb","v":60},{"s":"dm2","e":"Dy","v":400},{"s":"dm2","e":"Ho","v":1300},{"s":"dm2","e":"Er","v":3500},{"s":"dm2","e":"Tm","v":8000},{"s":"dm2","e":"Yb","v":13000},{"s":"dm2","e":"Lu","v":14000},
      {"s":"dm3","e":"Nd","v":0.3},{"s":"dm3","e":"Sm","v":0.8},{"s":"dm3","e":"Eu","v":0.8},{"s":"dm3","e":"Gd","v":3},{"s":"dm3","e":"Tb","v":30},{"s":"dm3","e":"Dy","v":200},{"s":"dm3","e":"Ho","v":900},{"s":"dm3","e":"Er","v":2800},{"s":"dm3","e":"Tm","v":6500},{"s":"dm3","e":"Yb","v":11000},{"s":"dm3","e":"Lu","v":9000},
      {"s":"dm4","e":"Nd","v":0.4},{"s":"dm4","e":"Sm","v":1.2},{"s":"dm4","e":"Eu","v":1.5},{"s":"dm4","e":"Gd","v":10},{"s":"dm4","e":"Tb","v":150},{"s":"dm4","e":"Dy","v":700},{"s":"dm4","e":"Ho","v":1600},{"s":"dm4","e":"Er","v":3800},{"s":"dm4","e":"Tm","v":7500},{"s":"dm4","e":"Yb","v":11500},{"s":"dm4","e":"Lu","v":6500},
      {"s":"dm5","e":"Nd","v":0.25},{"s":"dm5","e":"Sm","v":1.5},{"s":"dm5","e":"Eu","v":2},{"s":"dm5","e":"Gd","v":50},{"s":"dm5","e":"Tb","v":250},{"s":"dm5","e":"Dy","v":650},{"s":"dm5","e":"Ho","v":1100},{"s":"dm5","e":"Er","v":2000},{"s":"dm5","e":"Tm","v":3500},{"s":"dm5","e":"Yb","v":5000},{"s":"dm5","e":"Lu","v":4000},
      {"s":"dm6","e":"Nd","v":0.3},{"s":"dm6","e":"Sm","v":1.0},{"s":"dm6","e":"Eu","v":1.2},{"s":"dm6","e":"Gd","v":6},{"s":"dm6","e":"Tb","v":40},{"s":"dm6","e":"Dy","v":150},{"s":"dm6","e":"Ho","v":450},{"s":"dm6","e":"Er","v":1200},{"s":"dm6","e":"Tm","v":2200},{"s":"dm6","e":"Yb","v":3000},{"s":"dm6","e":"Lu","v":3000},
      {"s":"dm7","e":"Nd","v":0.2},{"s":"dm7","e":"Sm","v":0.9},{"s":"dm7","e":"Eu","v":1.0},{"s":"dm7","e":"Gd","v":5},{"s":"dm7","e":"Tb","v":30},{"s":"dm7","e":"Dy","v":100},{"s":"dm7","e":"Ho","v":150},{"s":"dm7","e":"Er","v":250},{"s":"dm7","e":"Tm","v":400},{"s":"dm7","e":"Yb","v":650},{"s":"dm7","e":"Lu","v":500},
      {"s":"dm8","e":"Nd","v":0.15},{"s":"dm8","e":"Sm","v":0.7},{"s":"dm8","e":"Eu","v":0.8},{"s":"dm8","e":"Gd","v":4},{"s":"dm8","e":"Tb","v":20},{"s":"dm8","e":"Dy","v":80},{"s":"dm8","e":"Ho","v":120},{"s":"dm8","e":"Er","v":200},{"s":"dm8","e":"Tm","v":320},{"s":"dm8","e":"Yb","v":480},{"s":"dm8","e":"Lu","v":350}
    ]
  },
  "columns": 2,
  "spacing": {"row": 80, "column": 137},
  "bounds": "flush",
  "concat": [
    {
      "width": 499, "height": 344,
      "title": {"text": "(a) T8-15-2"},
      "encoding": {
        "x": {"field": "k", "type": "quantitative", "scale": {"domain": [-0.5, 13.5], "nice": false, "zero": false},
              "axis": {"title": null, "values": [0,1,2,3,4,5,6,7,8,9,10,11,12,13], "labelExpr": "['La','Ce','Pr','Nd','Sm','Eu','Gd','Tb','Dy','Ho','Er','Tm','Yb','Lu'][datum.value]", "tickOffset": 17.82, "labelOffset": -17.82, "tickSize": -5, "labelPadding": 16, "labelFlush": false, "labelOverlap": false}},
        "y": {"field": "v", "type": "quantitative", "scale": {"type": "log", "domain": [0.001, 100000], "nice": false},
              "axis": {"title": "Sample/Chondrite", "values": [0.001,0.01,0.1,1,10,100,1000,10000,100000], "labelExpr": "datum.value >= 10 ? format(datum.value, 'd') : datum.value >= 1 ? '1.0' : datum.value >= 0.1 ? '0.10' : datum.value >= 0.01 ? '0.010' : '0.001'", "tickSize": -4, "labelPadding": 5, "labelFlush": false, "labelOverlap": false, "titleX": -102, "titleBaseline": "middle"}}
      },
      "layer": [
        {
          "data": {"name": "pts"},
          "transform": [
            {"lookup": "s", "from": {"data": {"name": "series"}, "key": "s", "fields": ["p", "g"]}},
            {"filter": "datum.p === 'a'"},
            {"lookup": "e", "from": {"data": {"name": "ree"}, "key": "e", "fields": ["k"]}}
          ],
          "mark": {"type": "line", "color": "#e8312b", "strokeWidth": 1.2},
          "encoding": {"detail": {"field": "s", "type": "nominal"}}
        },
        {
          "data": {"name": "notes"},
          "transform": [{"filter": "datum.p === 'a'"}],
          "mark": {"type": "text", "fontSize": 25},
          "encoding": {"text": {"field": "t", "type": "nominal"}}
        }
      ]
    },
    {
      "width": 499, "height": 344,
      "title": {"text": "(b) T10-74-1"},
      "encoding": {
        "x": {"field": "k", "type": "quantitative", "scale": {"domain": [-0.5, 13.5], "nice": false, "zero": false},
              "axis": {"title": null, "values": [0,1,2,3,4,5,6,7,8,9,10,11,12,13], "labelExpr": "['La','Ce','Pr','Nd','Sm','Eu','Gd','Tb','Dy','Ho','Er','Tm','Yb','Lu'][datum.value]", "tickOffset": 17.82, "labelOffset": -17.82, "tickSize": -5, "labelPadding": 16, "labelFlush": false, "labelOverlap": false}},
        "y": {"field": "v", "type": "quantitative", "scale": {"type": "log", "domain": [0.001, 100000], "nice": false},
              "axis": {"title": "Sample/Chondrite", "values": [0.001,0.01,0.1,1,10,100,1000,10000,100000], "labelExpr": "datum.value >= 10 ? format(datum.value, 'd') : datum.value >= 1 ? '1.0' : datum.value >= 0.1 ? '0.10' : datum.value >= 0.01 ? '0.010' : '0.001'", "tickSize": -4, "labelPadding": 5, "labelFlush": false, "labelOverlap": false, "titleX": -102, "titleBaseline": "middle"}}
      },
      "layer": [
        {
          "data": {"name": "pts"},
          "transform": [
            {"lookup": "s", "from": {"data": {"name": "series"}, "key": "s", "fields": ["p", "g"]}},
            {"filter": "datum.p === 'b' && datum.g === 'met'"},
            {"lookup": "e", "from": {"data": {"name": "ree"}, "key": "e", "fields": ["k"]}}
          ],
          "mark": {"type": "line", "color": "#2e3a96", "strokeWidth": 1.3, "strokeDash": [7, 4]},
          "encoding": {"detail": {"field": "s", "type": "nominal"}}
        },
        {
          "data": {"name": "pts"},
          "transform": [
            {"lookup": "s", "from": {"data": {"name": "series"}, "key": "s", "fields": ["p", "g"]}},
            {"filter": "datum.p === 'b' && datum.g === 'mag'"},
            {"lookup": "e", "from": {"data": {"name": "ree"}, "key": "e", "fields": ["k"]}}
          ],
          "mark": {"type": "line", "color": "#e8312b", "strokeWidth": 1.2},
          "encoding": {"detail": {"field": "s", "type": "nominal"}}
        },
        {
          "data": {"name": "notes"},
          "transform": [{"filter": "datum.p === 'b'"}],
          "mark": {"type": "text", "fontSize": 25},
          "encoding": {"text": {"field": "t", "type": "nominal"}}
        }
      ]
    },
    {
      "width": 499, "height": 344,
      "title": {"text": "(c) T10-74-2"},
      "encoding": {
        "x": {"field": "k", "type": "quantitative", "scale": {"domain": [-0.5, 13.5], "nice": false, "zero": false},
              "axis": {"title": null, "values": [0,1,2,3,4,5,6,7,8,9,10,11,12,13], "labelExpr": "['La','Ce','Pr','Nd','Sm','Eu','Gd','Tb','Dy','Ho','Er','Tm','Yb','Lu'][datum.value]", "tickOffset": 17.82, "labelOffset": -17.82, "tickSize": -5, "labelPadding": 16, "labelFlush": false, "labelOverlap": false}},
        "y": {"field": "v", "type": "quantitative", "scale": {"type": "log", "domain": [0.001, 100000], "nice": false},
              "axis": {"title": "Sample/Chondrite", "values": [0.001,0.01,0.1,1,10,100,1000,10000,100000], "labelExpr": "datum.value >= 10 ? format(datum.value, 'd') : datum.value >= 1 ? '1.0' : datum.value >= 0.1 ? '0.10' : datum.value >= 0.01 ? '0.010' : '0.001'", "tickSize": -4, "labelPadding": 5, "labelFlush": false, "labelOverlap": false, "titleX": -102, "titleBaseline": "middle"}}
      },
      "layer": [
        {
          "data": {"name": "pts"},
          "transform": [
            {"lookup": "s", "from": {"data": {"name": "series"}, "key": "s", "fields": ["p", "g"]}},
            {"filter": "datum.p === 'c' && datum.g === 'met'"},
            {"lookup": "e", "from": {"data": {"name": "ree"}, "key": "e", "fields": ["k"]}}
          ],
          "mark": {"type": "line", "color": "#2e3a96", "strokeWidth": 1.3, "strokeDash": [7, 4]},
          "encoding": {"detail": {"field": "s", "type": "nominal"}}
        },
        {
          "data": {"name": "pts"},
          "transform": [
            {"lookup": "s", "from": {"data": {"name": "series"}, "key": "s", "fields": ["p", "g"]}},
            {"filter": "datum.p === 'c' && datum.g === 'mag'"},
            {"lookup": "e", "from": {"data": {"name": "ree"}, "key": "e", "fields": ["k"]}}
          ],
          "mark": {"type": "line", "color": "#e8312b", "strokeWidth": 1.2},
          "encoding": {"detail": {"field": "s", "type": "nominal"}}
        },
        {
          "data": {"name": "notes"},
          "transform": [{"filter": "datum.p === 'c'"}],
          "mark": {"type": "text", "fontSize": 25},
          "encoding": {"text": {"field": "t", "type": "nominal"}}
        }
      ]
    },
    {
      "width": 499, "height": 344,
      "title": {"text": "(d) T8-20-3 and T9-31-9"},
      "encoding": {
        "x": {"field": "k", "type": "quantitative", "scale": {"domain": [-0.5, 13.5], "nice": false, "zero": false},
              "axis": {"title": null, "values": [0,1,2,3,4,5,6,7,8,9,10,11,12,13], "labelExpr": "['La','Ce','Pr','Nd','Sm','Eu','Gd','Tb','Dy','Ho','Er','Tm','Yb','Lu'][datum.value]", "tickOffset": 17.82, "labelOffset": -17.82, "tickSize": -5, "labelPadding": 16, "labelFlush": false, "labelOverlap": false}},
        "y": {"field": "v", "type": "quantitative", "scale": {"type": "log", "domain": [0.001, 100000], "nice": false},
              "axis": {"title": "Sample/Chondrite", "values": [0.001,0.01,0.1,1,10,100,1000,10000,100000], "labelExpr": "datum.value >= 10 ? format(datum.value, 'd') : datum.value >= 1 ? '1.0' : datum.value >= 0.1 ? '0.10' : datum.value >= 0.01 ? '0.010' : '0.001'", "tickSize": -4, "labelPadding": 5, "labelFlush": false, "labelOverlap": false, "titleX": -102, "titleBaseline": "middle"}}
      },
      "layer": [
        {
          "data": {"name": "pts"},
          "transform": [
            {"lookup": "s", "from": {"data": {"name": "series"}, "key": "s", "fields": ["p", "g"]}},
            {"filter": "datum.p === 'd' && datum.g === 'met'"},
            {"lookup": "e", "from": {"data": {"name": "ree"}, "key": "e", "fields": ["k"]}}
          ],
          "mark": {"type": "line", "color": "#3b48a8", "strokeWidth": 1.3, "strokeDash": [7, 4]},
          "encoding": {"detail": {"field": "s", "type": "nominal"}}
        },
        {
          "data": {"name": "pts"},
          "transform": [
            {"lookup": "s", "from": {"data": {"name": "series"}, "key": "s", "fields": ["p", "g"]}},
            {"filter": "datum.p === 'd' && datum.g === 'blk'"},
            {"lookup": "e", "from": {"data": {"name": "ree"}, "key": "e", "fields": ["k"]}}
          ],
          "mark": {"type": "line", "color": "#141414", "strokeWidth": 1.3},
          "encoding": {"detail": {"field": "s", "type": "nominal"}}
        },
        {
          "data": {"name": "leaders"},
          "mark": {"type": "rule", "color": "#141414", "strokeWidth": 1.2},
          "encoding": {"x2": {"field": "k2"}, "y2": {"field": "v2"}}
        },
        {
          "data": {"name": "notes"},
          "transform": [{"filter": "datum.p === 'd' && datum.kind === 'group'"}],
          "mark": {"type": "text", "fontSize": 25},
          "encoding": {"text": {"field": "t", "type": "nominal"}}
        },
        {
          "data": {"name": "notes"},
          "transform": [{"filter": "datum.p === 'd' && datum.kind === 'sample'"}],
          "mark": {"type": "text", "fontSize": 27},
          "encoding": {"text": {"field": "t", "type": "nominal"}}
        }
      ]
    }
  ]
}
